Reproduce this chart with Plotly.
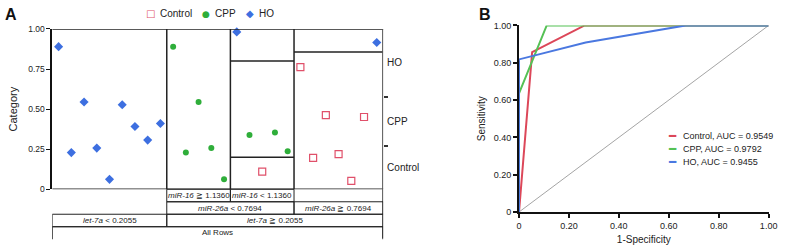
import plotly.graph_objects as go

W, H = 787, 249
FONT = "Liberation Sans, Arial, Helvetica, sans-serif"

# ---------------- Panel A data (partition / mosaic) ----------------
categories = ["Control", "CPP", "HO"]
cat_colors = {"Control": "#e0506a", "CPP": "#2fae3a", "HO": "#3d6fe0"}
cat_symbols = {"Control": "square-open", "CPP": "circle", "HO": "diamond"}
row_category = ["HO", "HO", "HO", "HO", "HO", "HO", "HO", "HO", "HO",
                "CPP", "CPP", "CPP", "CPP", "CPP",
                "HO", "CPP", "Control", "CPP", "CPP",
                "Control", "Control", "Control", "Control", "Control", "Control", "HO"]
row_jitter = [0.890, 0.229, 0.545, 0.257, 0.062, 0.527, 0.392, 0.307, 0.410,
              0.890, 0.229, 0.545, 0.257, 0.062,
              0.982, 0.339, 0.110, 0.355, 0.238,
              0.762, 0.196, 0.463, 0.220, 0.052, 0.451, 0.916]
leaf_sizes = [9, 5, 5, 7]
a_tick_vals = [0, 0.25, 0.5, 0.75, 1.0]
a_tick_text = ["0", "0.25", "0.50", "0.75", "1.00"]
# split labels per tree row: (text, first leaf, last leaf)
tree_rows = [
    [("<i>miR-16</i> ≧ 1.1360", 1, 1), ("<i>miR-16</i> &lt; 1.1360", 2, 2)],
    [("<i>miR-26a</i> &lt; 0.7694", 1, 2), ("<i>miR-26a</i> ≧ 0.7694", 3, 3)],
    [("<i>let-7a</i> &lt; 0.2055", 0, 0), ("<i>let-7a</i> ≧ 0.2055", 1, 3)],
    [("All Rows", 0, 3)],
]

# ---------------- Panel B data (ROC) ----------------
roc_names = ["Control, AUC = 0.9549", "CPP, AUC = 0.9792", "HO, AUC = 0.9455"]
roc_colors = ["#dc4759", "#55c155", "#4a78e0"]
roc_fpr = [[0, 0.0526, 0.263, 1.0],
           [0, 0, 0.111, 1.0],
           [0, 0, 0.267, 0.667, 1.0]]
roc_tpr = [[0, 0.857, 1.0, 1.0],
           [0, 0.636, 1.0, 1.0],
           [0, 0.818, 0.909, 1.0, 1.0]]
b_tick_vals = [0, 0.2, 0.4, 0.6, 0.8, 1.0]
b_tick_text = ["0", "0.20", "0.40", "0.60", "0.80", "1.00"]


def py(px):
    return 1 - px / H


def pxx(px):
    return px / W


fig = go.Figure()
DARK = "#222222"
GRAY = "#555555"

# leaf boundaries
cum = [0]
for s in leaf_sizes:
    cum.append(cum[-1] + s)
total = cum[-1]

# --- Panel A partition lines (drawn on the right category axis) ---
lx, ly = [], []
lx += [0, total + 0.3, None, 0, total + 0.3, None]
ly += [1, 1, None, 0, 0, None]
for b in cum[1:-1]:
    lx += [b, b, None]
    ly += [0, 1, None]
for li in range(len(leaf_sizes)):
    a, b = cum[li], cum[li + 1]
    cats_here = row_category[a:b]
    acc = 0
    seen = set()
    for cat in categories[:-1]:
        acc += cats_here.count(cat)
        frac = acc / len(cats_here)
        if 0 < frac < 1 and round(frac, 4) not in seen:
            seen.add(round(frac, 4))
            lx += [a, b, None]
            ly += [frac, frac, None]
fig.add_trace(go.Scatter(x=lx, y=ly, mode="lines", showlegend=False, hoverinfo="skip",
                         xaxis="x", yaxis="y2", cliponaxis=False,
                         line=dict(color=DARK, width=1.5)))

# --- Panel A points ---
n_rows = len(row_category)
for cat in categories:
    xs = [i + 0.5 for i in range(n_rows) if row_category[i] == cat]
    ys = [row_jitter[i] for i in range(n_rows) if row_category[i] == cat]
    fig.add_trace(go.Scatter(
        x=xs, y=ys, mode="markers", name=cat, showlegend=False,
        xaxis="x", yaxis="y",
        marker=dict(symbol=cat_symbols[cat], color=cat_colors[cat],
                    size=7 if cat != "CPP" else 6,
                    line=dict(width=1.2 if cat == "Control" else 0, color=cat_colors[cat])),
        cliponaxis=False))

# --- Panel B curves ---
fig.add_trace(go.Scatter(x=[0, 1], y=[0, 1], mode="lines", showlegend=False,
                         xaxis="x2", yaxis="y3",
                         line=dict(color="#9a9a9a", width=0.9)))
for name, col, fx, ty in zip(roc_names, roc_colors, roc_fpr, roc_tpr):
    fig.add_trace(go.Scatter(x=fx, y=ty, mode="lines", name=name, showlegend=False,
                             xaxis="x2", yaxis="y3", cliponaxis=False,
                             line=dict(color=col, width=2)))

shapes = []
annotations = []

# right axis line extension through table
shapes.append(dict(type="line", xref="x", yref="paper", x0=total, x1=total,
                   y0=py(243), y1=py(25), line=dict(color=GRAY, width=2)))

# tree table
row_top = [192, 205, 218, 231]
row_h = 13
for ri, row in enumerate(tree_rows):
    t = row_top[ri]
    bt = t + row_h
    for (txt, l0, l1) in row:
        x0, x1 = cum[l0], cum[l1 + 1]
        if ri < 3:
            shapes.append(dict(type="rect", xref="x", yref="paper", x0=x0, x1=x1,
                               y0=py(bt), y1=py(t), line=dict(color=DARK, width=1)))
        else:
            shapes.append(dict(type="line", xref="x", yref="paper", x0=x0, x1=x1,
                               y0=py(t), y1=py(t), line=dict(color=DARK, width=1)))
            for xx in (x0, x1):
                shapes.append(dict(type="line", xref="x", yref="paper", x0=xx, x1=xx,
                                   y0=py(bt), y1=py(t), line=dict(color=DARK, width=1.5)))
        annotations.append(dict(x=(x0 + x1) / 2, y=py(t + row_h / 2), xref="x", yref="paper",
                                text=txt, showarrow=False, xanchor="center", yanchor="middle",
                                font=dict(size=8, color="#222", family=FONT)))

# right category axis values
overall_bounds = []
overall_centers = []
acc = 0
for cat in categories:
    c = row_category.count(cat)
    overall_centers.append((acc + c / 2) / total)
    acc += c
    if acc < total:
        overall_bounds.append(acc / total)

# --- Legend A (glyph + text) ---
legA = [("□", "Control", 150, 157, 10), ("●", "CPP", 206, 213, 9), ("◆", "HO", 251, 258, 10)]
for (g, cat, gx, tx, gs) in legA:
    annotations.append(dict(x=pxx(gx), y=py(9), xref="paper", yref="paper", text=g,
                            showarrow=False, xanchor="center", yanchor="middle",
                            font=dict(size=gs, color=cat_colors[cat], family="DejaVu Sans")))
    annotations.append(dict(x=pxx(tx), y=py(9), xref="paper", yref="paper", text=cat,
                            showarrow=False, xanchor="left", yanchor="middle",
                            font=dict(size=10, color="#222", family=FONT)))

# --- Legend B ---
legB_y = [136, 150, 163.7]
for name, col, yy in zip(roc_names, roc_colors, legB_y):
    annotations.append(dict(x=pxx(679.5), y=py(yy), xref="paper", yref="paper", text="━",
                            showarrow=False, xanchor="center", yanchor="middle",
                            font=dict(size=12, color=col, family="DejaVu Sans")))
    annotations.append(dict(x=pxx(689), y=py(yy), xref="paper", yref="paper", text=name,
                            showarrow=False, xanchor="left", yanchor="middle",
                            font=dict(size=9, color="#222", family=FONT)))

# panel labels
annotations.append(dict(x=0, y=py(10), xref="paper", yref="paper", text="<b>A</b>",
                        showarrow=False, xanchor="left", yanchor="middle",
                        font=dict(size=16, color="#111", family=FONT)))
annotations.append(dict(x=pxx(481), y=py(10), xref="paper", yref="paper", text="<b>B</b>",
                        showarrow=False, xanchor="left", yanchor="middle",
                        font=dict(size=16, color="#111", family=FONT)))

tickfont = dict(size=8.5, color="#222", family=FONT)
fig.update_layout(
    width=W, height=H, margin=dict(l=0, r=0, t=0, b=0),
    paper_bgcolor="white", plot_bgcolor="white",
    font=dict(family=FONT, color="#222"),
    xaxis=dict(domain=[pxx(50), pxx(386)], range=[0, total], visible=False, anchor="y"),
    yaxis=dict(domain=[py(192), py(25)], range=[0, 1], anchor="x",
               tickvals=a_tick_vals, ticktext=a_tick_text, ticks="outside", ticklen=4,
               tickwidth=1.2, tickcolor="#111", showline=True, linecolor="#111", linewidth=1.5,
               showgrid=False, zeroline=False, tickfont=tickfont,
               title=dict(text="Category", font=dict(size=11, family=FONT, color="#222"), standoff=8)),
    yaxis2=dict(domain=[py(192), py(25)], range=[0, 1], anchor="x", overlaying="y", side="right",
                tickvals=overall_centers, ticktext=categories, ticks="", showline=False,
                showgrid=False, zeroline=False, ticklabelstandoff=3,
                tickfont=dict(size=10, color="#222", family=FONT),
                minor=dict(tickvals=overall_bounds, ticks="outside", ticklen=4,
                           tickwidth=1.5, tickcolor="#333")),
    xaxis2=dict(domain=[pxx(524), pxx(777.5)], range=[0, 1], anchor="y3",
                tickvals=b_tick_vals, ticktext=b_tick_text, ticks="outside", ticklen=4,
                tickwidth=1.5, tickcolor="#111", showline=True, linecolor="#111", linewidth=1.5,
                showgrid=False, zeroline=False, tickfont=dict(size=9, color="#222", family=FONT),
                layer="below traces",
                title=dict(text="1-Specificity", font=dict(size=10, family=FONT, color="#222"), standoff=6)),
    yaxis3=dict(domain=[py(215.7), py(21.3)], range=[0, 1], anchor="x2",
                tickvals=b_tick_vals, ticktext=b_tick_text, ticks="outside", ticklen=4,
                tickwidth=1.5, tickcolor="#111", showline=True, linecolor="#111", linewidth=2,
                showgrid=False, zeroline=False, tickfont=dict(size=9, color="#222", family=FONT),
                layer="below traces",
                title=dict(text="Sensitivity", font=dict(size=10, family=FONT, color="#222"), standoff=6)),
    shapes=shapes,
    annotations=annotations,
    showlegend=False,
)

fig.write_html("out.html")
